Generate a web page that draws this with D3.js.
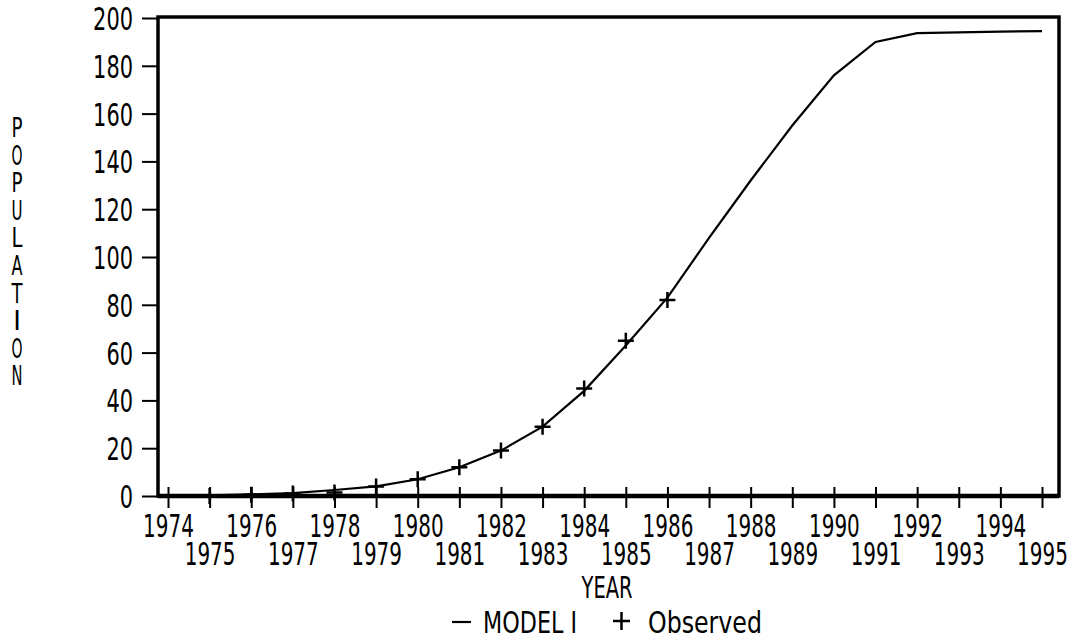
<!DOCTYPE html>
<html>
<head>
<meta charset="utf-8">
<script src="https://cdn.jsdelivr.net/npm/d3@7"></script>
<style>
  body { margin: 0; background: #fff; }
  svg { display: block; }
  text { font-family: "DejaVu Sans", sans-serif; fill: #000; }
</style>
</head>
<body>
<svg></svg>
<script>
// data
const years = [1974, 1975, 1976, 1977, 1978, 1979, 1980, 1981, 1982, 1983, 1984,
    1985, 1986, 1987, 1988, 1989, 1990, 1991, 1992, 1993, 1994, 1995];
const modelValues = [0, 0.3, 0.7, 1.2, 2.5, 4, 7, 12, 19, 29, 44,
    63, 83, 108, 132, 155, 176, 190, 193.7, 194, 194.3, 194.5];
const obsYears = [1975, 1976, 1977, 1978, 1979, 1980, 1981, 1982, 1983, 1984, 1985, 1986];
const obsValues = [0, 0.5, 1, 1.5, 4, 7, 12, 19, 29, 45, 65, 82];
const popTicks = [0, 20, 40, 60, 80, 100, 120, 140, 160, 180, 200];

const svg = d3.select("svg")
    .attr("width", 1082)
    .attr("height", 644);

const frame = { left: 158, top: 17, right: 1059, bottom: 496 };
const charW = 12.7; // kapea plotterifontti: merkin leveys

const xScale = d3.scaleLinear()
    .domain([1974, 1995])
    .range([168, 1042]);

const yScale = d3.scaleLinear()
    .domain([0, 200])
    .range([frame.bottom, 18]);

// kehys
svg.append("rect")
    .attr("x", frame.left)
    .attr("y", frame.top)
    .attr("width", frame.right - frame.left)
    .attr("height", frame.bottom - frame.top)
    .attr("fill", "none")
    .attr("stroke", "#000")
    .attr("stroke-width", 3.5);

// x-akseli, parilliset vuodet ylärivillä ja parittomat alarivillä
const xAxisGroup = svg.append("g")
    .attr("transform", `translate(0, ${frame.bottom})`);
xAxisGroup.call(d3.axisBottom(xScale)
    .tickValues(years)
    .tickFormat(d => d)
    .tickSizeOuter(0));
xAxisGroup.select(".domain")
    .attr("stroke-width", 4.5)
    .attr("d", `M${frame.left},0H${frame.right}`);
xAxisGroup.selectAll(".tick line")
    .attr("y1", -9)
    .attr("y2", 12)
    .attr("stroke-width", 2);
xAxisGroup.selectAll(".tick text")
    .attr("y", d => (d % 2 === 0 ? 41 : 69))
    .attr("dy", 0)
    .attr("font-size", 32)
    .attr("textLength", d => String(d).length * charW)
    .attr("lengthAdjust", "spacingAndGlyphs");

// y-akseli
const yAxisGroup = svg.append("g")
    .attr("transform", `translate(${frame.left}, 0)`);
yAxisGroup.call(d3.axisLeft(yScale)
    .tickValues(popTicks)
    .tickSize(16)
    .tickSizeOuter(0));
yAxisGroup.select(".domain").remove();
yAxisGroup.selectAll(".tick line").attr("stroke-width", 2);
yAxisGroup.selectAll(".tick text")
    .attr("x", -25)
    .attr("dy", "0.36em")
    .attr("font-size", 32)
    .attr("textLength", d => String(d).length * 13.3)
    .attr("lengthAdjust", "spacingAndGlyphs");
yAxisGroup.selectAll("text").attr("font-family", null);
xAxisGroup.selectAll("text").attr("font-family", null);

// mallikäyrä
const line = d3.line()
    .x((d, i) => xScale(years[i]))
    .y(d => yScale(d));

svg.append("path")
    .datum(modelValues)
    .attr("d", line)
    .attr("fill", "none")
    .attr("stroke", "#000")
    .attr("stroke-width", 2.2);

// havainnot (+)
const obs = obsYears.map((y, i) => ({ year: y, value: obsValues[i] }));
svg.selectAll(".obs")
    .data(obs)
    .enter()
    .append("path")
    .attr("class", "obs")
    .attr("d", d => {
        const cx = xScale(d.year), cy = yScale(d.value);
        return `M${cx - 8},${cy}H${cx + 8}M${cx},${cy - 8}V${cy + 8}`;
    })
    .attr("stroke", "#000")
    .attr("stroke-width", 2.5);

// akselien otsikot
svg.append("text")
    .attr("x", 607)
    .attr("y", 598)
    .attr("text-anchor", "middle")
    .attr("font-size", 31)
    .attr("textLength", 51)
    .attr("lengthAdjust", "spacingAndGlyphs")
    .text("YEAR");

const yLabel = "POPULATION".split("");
svg.append("g").selectAll("text")
    .data(yLabel)
    .enter()
    .append("text")
    .attr("x", 17)
    .attr("y", (d, i) => 137 + i * 27.6)
    .attr("text-anchor", "middle")
    .attr("font-size", 26)
    .each(function(d) {
        // I jää luonnolliseen leveyteensä
        if (d !== "I") {
            d3.select(this)
                .attr("textLength", 11)
                .attr("lengthAdjust", "spacingAndGlyphs");
        }
    })
    .text(d => d);

// selite
const legend = svg.append("g");
legend.append("line")
    .attr("x1", 452).attr("x2", 471)
    .attr("y1", 622).attr("y2", 622)
    .attr("stroke", "#000")
    .attr("stroke-width", 2.2);
legend.append("text")
    .attr("x", 483)
    .attr("y", 633)
    .attr("font-size", 31)
    .attr("textLength", 94)
    .attr("lengthAdjust", "spacingAndGlyphs")
    .text("MODEL I");
legend.append("path")
    .attr("d", "M613,621H630M621.5,612V630")
    .attr("stroke", "#000")
    .attr("stroke-width", 2.5);
legend.append("text")
    .attr("x", 648)
    .attr("y", 633)
    .attr("font-size", 31)
    .attr("textLength", 114)
    .attr("lengthAdjust", "spacingAndGlyphs")
    .text("Observed");
</script>
</body>
</html>
